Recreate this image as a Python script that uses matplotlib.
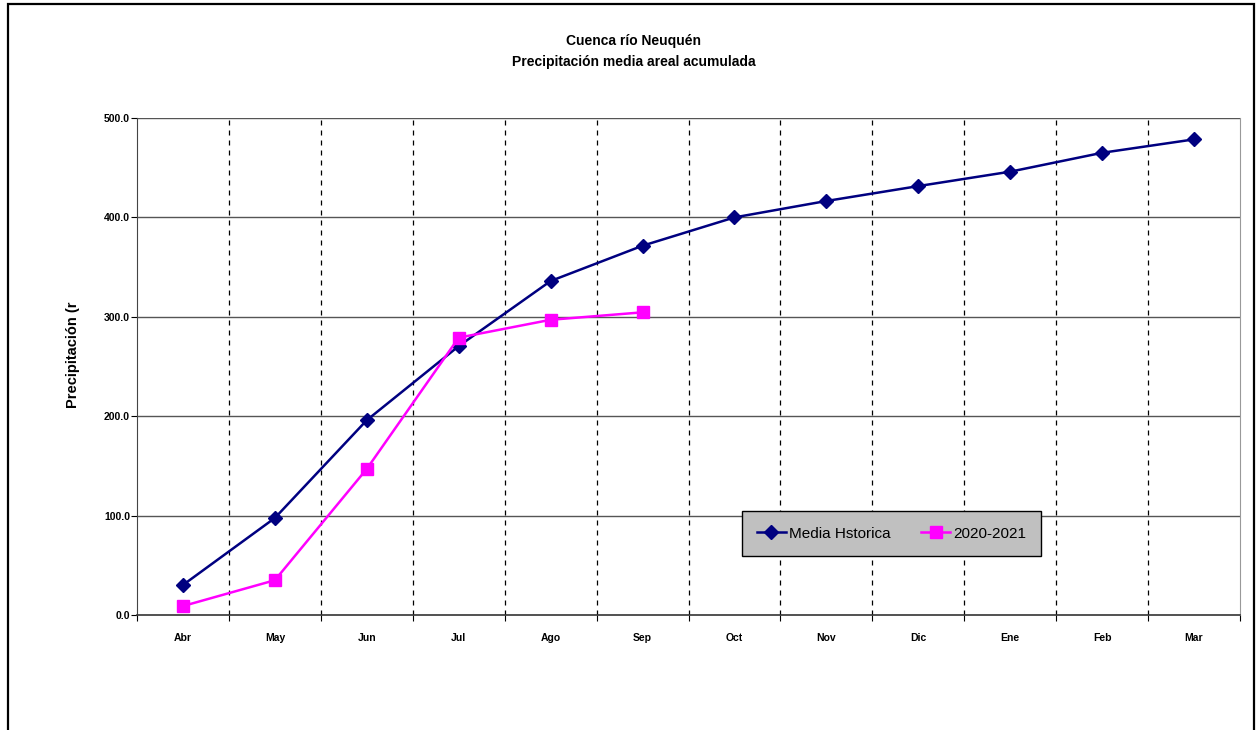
import matplotlib
matplotlib.use("Agg")
import matplotlib.pyplot as plt
from matplotlib.patches import Rectangle
import numpy as np

months = ["Abr", "May", "Jun", "Jul", "Ago", "Sep", "Oct", "Nov", "Dic", "Ene", "Feb", "Mar"]
media_historica = [30.2, 97.6, 196.0, 270.5, 336.0, 371.5, 400.0, 416.5, 431.5, 446.0, 465.0, 478.5]
serie_2020_2021 = [9.0, 35.0, 147.0, 279.0, 297.0, 304.5]
yticks = [0, 100, 200, 300, 400, 500]

FONT = ["Liberation Sans", "DejaVu Sans"]
plt.rcParams["font.family"] = FONT

W, H = 1257, 730
fig = plt.figure(figsize=(W / 100, H / 100), dpi=100)
fig.patch.set_facecolor("white")

# outer frame
fig.add_artist(Rectangle((8 / W, -0.05), (1254 - 8) / W, (730 - 4) / H + 0.05,
                         transform=fig.transFigure, fill=False, edgecolor="black", linewidth=1.6))

ax = fig.add_axes([137 / W, (730 - 615) / H, (1240 - 137) / W, (615 - 118) / H])
x = np.arange(len(months))

ax.plot(x, media_historica, color="#000080", marker="D", markersize=7, linewidth=1.8,
        label="Media Hstorica", zorder=4)
ax.plot(x[:len(serie_2020_2021)], serie_2020_2021, color="#FF00FF", marker="s", markersize=8,
        linewidth=1.8, label="2020-2021", zorder=5)

ax.set_xlim(-0.5, len(months) - 0.5)
ax.set_ylim(0, 500)

# horizontal grid
ax.set_yticks(yticks)
ax.set_yticklabels([f"{v:.1f}" for v in yticks], fontsize=7.5, fontweight="bold")
for v in yticks[1:]:
    ax.axhline(v, color="#555555", linewidth=1.0, zorder=1)
# vertical dashed separators
bounds = np.arange(-0.5, len(months), 1.0)
for b in bounds[1:-1]:
    ax.axvline(b, color="black", linewidth=0.9, linestyle=(0, (4, 4)), zorder=1)

ax.set_xticks(bounds)
ax.set_xticklabels([])
ax.set_xticks(x, minor=True)
ax.set_xticklabels(months, minor=True, fontsize=7.5, fontweight="bold")
ax.tick_params(axis="x", which="major", length=4, direction="out", color="black")
ax.tick_params(axis="x", which="minor", length=0, pad=13)
ax.tick_params(axis="y", length=4, direction="out", pad=1)

ax.spines["top"].set_visible(False)
ax.spines["right"].set_color("#999999")
ax.spines["left"].set_color("#444444")
ax.spines["bottom"].set_color("#333333")
ax.spines["bottom"].set_linewidth(1.2)

fig.text(634 / W, 1 - 41 / H, "Cuenca río Neuquén", ha="center", va="center",
         fontsize=10, fontweight="bold")
fig.text(634 / W, 1 - 62 / H, "Precipitación media areal acumulada", ha="center", va="center",
         fontsize=10, fontweight="bold")
fig.text(73 / W, 1 - 355 / H, "Precipitación (r", rotation=90, ha="center", va="center",
         fontsize=10.5, fontweight="bold")

leg = ax.legend(loc="center", bbox_to_anchor=(891.5 / W, 1 - 533.5 / H),
                bbox_transform=fig.transFigure, ncol=2, fontsize=11, frameon=True,
                fancybox=False, facecolor="#C0C0C0", edgecolor="black", framealpha=1,
                handlelength=1.9, columnspacing=2.0, borderpad=1.0, handletextpad=0.2)
leg.get_frame().set_linewidth(1.0)

fig.savefig("out.png", dpi=100, facecolor="white")
